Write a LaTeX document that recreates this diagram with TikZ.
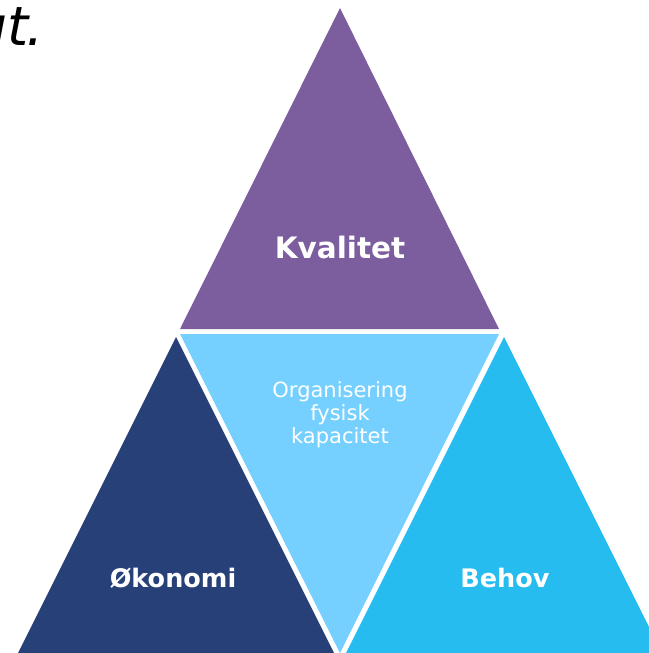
\documentclass[tikz,border=0pt]{standalone}
\usepackage{fontspec}
\setmainfont{DejaVu Sans}
\usepackage{tikz}
\definecolor{kvalitetlilla}{RGB}{124,93,158}
\definecolor{okonomiblaa}{RGB}{39,65,120}
\definecolor{midtblaa}{RGB}{117,208,255}
\definecolor{behovblaa}{RGB}{38,188,240}
\tikzstyle{tittel} = [text=white, inner sep=0pt, anchor=base, font=\bfseries\fontsize{25.5}{30}\selectfont]
\tikzstyle{midttekst} = [text=white, inner sep=0pt, align=center, font=\fontsize{21}{23}\selectfont]

\begin{document}
\begin{tikzpicture}[x=1pt,y=-1pt]
\useasboundingbox (0,0) rectangle (648,653);
\fill [kvalitetlilla] (340,8) -- (180,329) -- (499,329) -- cycle; %topp
\fill [midtblaa] (180,334) -- (499,334) -- (340,653) -- cycle; %midt
\fill [okonomiblaa] (176,337) -- (18,653) -- (334,653) -- cycle; %venstre
\fill [behovblaa] (504,337) -- (346,653) -- (662,653) -- cycle; %hoyre
\node (kvalitet) [tittel, font=\bfseries\fontsize{29.5}{34}\selectfont] at (340,258) {Kvalitet};
\node (okonomi) [tittel] at (173,587) {Økonomi};
\node (behov) [tittel] at (505,587) {Behov};
\node (organisering) [midttekst] at (340,415) {Organisering\\fysisk\\kapacitet};
\node (slutt) [inner sep=0pt, anchor=base east, font=\itshape\fontsize{54}{60}\selectfont] at (44,45) {ut\kern-2pt.};
\end{tikzpicture}
\end{document}
